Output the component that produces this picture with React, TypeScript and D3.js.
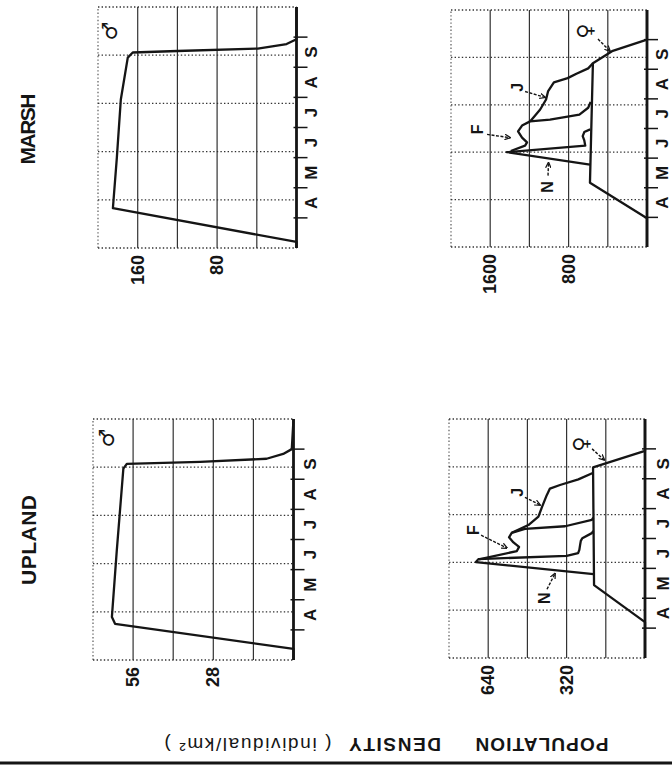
import React from 'react';
import * as d3 from 'd3';

type Pt = [number, number];

// ---- axis data ----
const timeDomain: Pt = [3, 11]; // Mar 1 -> Nov 1 (month number)
const monthLabels = ['A', 'M', 'J', 'J', 'A', 'S'];
const monthLabelAt = [4.5, 5.5, 6.5, 7.5, 8.5, 9.5];
const monthTicks = [4, 5, 6, 7, 8, 9, 10];

const uplandMaleTicks = [28, 56];
const uplandFemaleTicks = [320, 640];
const marshMaleTicks = [80, 160];
const marshFemaleTicks = [800, 1600];

// ---- series (month, density) ----
const uplandMale: Pt[] = [[3, 0], [3.37, 0], [4.2, 62.3], [4.43, 63.4], [6.63, 61.7], [9.35, 59.4], [9.51, 58.2], [9.58, 32.6], [9.68, 9.4], [9.84, 3.6], [10.0, 0.6], [11, 0]];
const marshMale: Pt[] = [[3, 0], [3.2, 0], [4.32, 185], [6.0, 181], [7.93, 177], [9.32, 170], [9.49, 165], [9.54, 120], [9.62, 39], [9.77, 10], [9.93, 0], [11, 0]];

const uplandFemaleAdult: Pt[] = [[3, 0], [4.2, 0], [5.44, 208], [9.38, 212], [9.93, 0], [11, 0]];
const uplandFemaleN: Pt[] = [[5.81, 210], [6.21, 690], [6.31, 680], [6.42, 320], [6.51, 273], [6.62, 268], [6.78, 265], [6.92, 262], [7.01, 256], [7.18, 217], [7.25, 211]];
const uplandFemaleF: Pt[] = [[6.3, 678], [6.58, 523], [6.72, 514], [6.87, 537], [7.04, 555], [7.19, 544], [7.32, 490], [7.41, 326], [7.62, 217], [7.7, 211]];
const uplandFemaleJ: Pt[] = [[7.19, 544], [7.45, 476], [7.73, 435], [8.04, 421], [8.45, 401], [8.67, 388], [8.79, 347], [8.98, 272], [9.2, 211]];

const marshFemaleAdult: Pt[] = [[3, 0], [3.97, 0], [5.17, 582], [9.2, 552], [9.61, 357], [10.0, 0], [11, 0]];
const marshFemaleN: Pt[] = [[5.78, 582], [6.2, 1430], [6.42, 630], [6.6, 640], [6.74, 656], [6.88, 640], [6.97, 580]];
const marshFemaleF: Pt[] = [[6.24, 1390], [6.42, 1244], [6.53, 1224], [6.69, 1275], [6.9, 1316], [7.1, 1275], [7.24, 1193], [7.3, 990], [7.47, 690], [7.7, 600], [7.9, 575]];
const marshFemaleJ: Pt[] = [[7.24, 1193], [7.64, 1090], [7.98, 1030], [8.25, 1010], [8.56, 950], [8.7, 810], [8.85, 720], [9.03, 600], [9.2, 552]];

// ---- annotations (data coordinates) ----
type Note = { text: string; at: Pt; from?: Pt; to?: Pt };
const uplandMaleNotes: Note[] = [{ text: '♂', at: [10.37, 65] }];
const marshMaleNotes: Note[] = [{ text: '♂', at: [10.2, 188] }];
const uplandFemaleNotes: Note[] = [
  { text: 'N', at: [5.0, 410], from: [5.3, 400], to: [5.83, 367] },
  { text: 'F', at: [7.28, 702], from: [7.11, 669], to: [6.68, 563] },
  { text: 'J', at: [8.55, 522], from: [8.38, 490], to: [8.12, 428] },
  { text: '♀', at: [10.16, 261], from: [10.0, 216], to: [9.63, 166] },
];
const marshFemaleNotes: Note[] = [
  { text: 'N', at: [5.03, 1020], from: [5.41, 1010], to: [5.85, 1005] },
  { text: 'F', at: [6.97, 1734], from: [6.8, 1632], to: [6.69, 1397] },
  { text: 'J', at: [8.39, 1326], from: [8.25, 1244], to: [8.05, 1040] },
  { text: '♀', at: [10.29, 632], from: [10.02, 500], to: [9.61, 377] },
];

type PanelCfg = {
  x0: number; x1: number; yTop: number; yBase: number; max: number;
  ticks: number[]; lines: Pt[][]; notes: Note[]; labelOff: number;
};

const panels: PanelCfg[] = [
  { x0: 110, x1: 351, yTop: 93, yBase: 293.5, max: 70, ticks: uplandMaleTicks, lines: [uplandMale], notes: uplandMaleNotes, labelOff: 17 },
  { x0: 112, x1: 351, yTop: 449, yBase: 645, max: 800, ticks: uplandFemaleTicks, lines: [uplandFemaleAdult, uplandFemaleN, uplandFemaleF, uplandFemaleJ], notes: uplandFemaleNotes, labelOff: 18 },
  { x0: 522, x1: 763, yTop: 98, yBase: 296.5, max: 200, ticks: marshMaleTicks, lines: [marshMale], notes: marshMaleNotes, labelOff: 15 },
  { x0: 523, x1: 760, yTop: 451, yBase: 647, max: 2000, ticks: marshFemaleTicks, lines: [marshFemaleAdult, marshFemaleN, marshFemaleF, marshFemaleJ], notes: marshFemaleNotes, labelOff: 15 },
];

const INK = '#151515';
const FONT = '"Liberation Sans", Arial, Helvetica, sans-serif';

function Panel({ p }: { p: PanelCfg }) {
  const x = d3.scaleLinear().domain(timeDomain).range([p.x0, p.x1]);
  const y = d3.scaleLinear().domain([0, p.max]).range([p.yBase, p.yTop]);
  const line = d3.line<Pt>().x(d => x(d[0])).y(d => y(d[1]));
  const span = timeDomain[1] - timeDomain[0];
  const tGrid = d3.range(1, 5).map(i => timeDomain[0] + (i * span) / 5);
  const vGrid = d3.range(1, 5).map(i => (p.max * i) / 5);
  const dot = { stroke: '#333', strokeWidth: 1.3, strokeDasharray: '1.4 2.2' };
  return (
    <g>
      {/* dotted frame */}
      <line x1={p.x0} x2={p.x1} y1={y(p.max)} y2={y(p.max)} {...dot} stroke="#666" />
      <line x1={p.x0} x2={p.x0} y1={y(p.max)} y2={p.yBase} {...dot} />
      <line x1={p.x1} x2={p.x1} y1={y(p.max)} y2={p.yBase} {...dot} />
      {tGrid.map((t, i) => (
        <line key={'t' + i} x1={x(t)} x2={x(t)} y1={y(p.max)} y2={p.yBase} {...dot} />
      ))}
      {vGrid.map((v, i) => (
        <line key={'v' + i} x1={p.x0} x2={p.x1} y1={y(v)} y2={y(v)} stroke="#333" strokeWidth={1.2} />
      ))}
      {p.ticks.map(v => (
        <text key={'l' + v} x={p.x0 - 7} y={y(v)} textAnchor="end" dominantBaseline="central"
          fontSize={18} fontWeight="bold" fontFamily={FONT} fill={INK}>{v}</text>
      ))}
      {/* baseline axis */}
      <line x1={p.x0} x2={p.x1} y1={p.yBase} y2={p.yBase} stroke={INK} strokeWidth={2.8} />
      {monthTicks.map(m => (
        <line key={'m' + m} x1={x(m)} x2={x(m)} y1={p.yBase - 3} y2={p.yBase + 11} stroke={INK} strokeWidth={1.5} />
      ))}
      {monthLabels.map((l, i) => (
        <text key={'ml' + i} x={x(monthLabelAt[i])} y={p.yBase + p.labelOff} textAnchor="middle"
          dominantBaseline="central" fontSize={17} fontWeight="bold" fontFamily={FONT} fill={INK}>{l}</text>
      ))}
      {p.lines.map((d, i) => (
        <path key={'s' + i} d={line(d) || ''} fill="none" stroke={INK} strokeWidth={2.3} strokeLinejoin="round" />
      ))}
      {p.notes.map((n, i) => {
        const sym = n.text === '♂' || n.text === '♀';
        return (
          <g key={'n' + i}>
            <text x={x(n.at[0])} y={y(n.at[1])} textAnchor="middle" dominantBaseline="central"
              fontSize={sym ? 21 : 16} fontWeight="bold"
              fontFamily={sym ? '"DejaVu Sans", sans-serif' : FONT} fill={INK}>{n.text}</text>
            {n.from && n.to && (
              <line x1={x(n.from[0])} y1={y(n.from[1])} x2={x(n.to[0])} y2={y(n.to[1])}
                stroke={INK} strokeWidth={1.4} strokeDasharray="3 1.5" markerEnd="url(#ah)" />
            )}
          </g>
        );
      })}
    </g>
  );
}

export default function App() {
  return (
    <>
      <style>{`html,body{margin:0;padding:0;background:#fff;}`}</style>
      <svg width={672} height={770} viewBox="0 0 672 770" style={{ display: 'block' }}>
        <defs>
          <marker id="ah" viewBox="0 0 10 10" refX="9" refY="5" markerWidth="6" markerHeight="6"
            orient="auto" markerUnits="userSpaceOnUse">
            <path d="M0,0.5 L10,5 L0,9.5" fill="none" stroke={INK} strokeWidth={2} />
          </marker>
        </defs>
        <rect width={672} height={770} fill="#fff" />
        <g transform="translate(0,770) rotate(-90)">
          {/* left rule */}
          <line x1={7} x2={7} y1={0} y2={672} stroke={INK} strokeWidth={3} />
          {/* y-axis title */}
          <g fontFamily={FONT} fontSize={19} fontWeight="bold" fill={INK}>
            <text transform="translate(32,542) rotate(-90)" textAnchor="middle" textLength={133}>POPULATION</text>
            <text transform="translate(32,395) rotate(-90)" textAnchor="middle" textLength={92}>DENSITY</text>
            <text transform="translate(32,248) rotate(-90)" textAnchor="middle" textLength={167} fontWeight="normal">( individual/km² )</text>
          </g>
          {/* column titles */}
          <text x={230} y={36} textAnchor="middle" fontFamily={FONT} fontSize={21} fontWeight="bold" fill={INK} textLength={90}>UPLAND</text>
          <text x={641} y={35} textAnchor="middle" fontFamily={FONT} fontSize={21} fontWeight="bold" fill={INK} textLength={71}>MARSH</text>
          {panels.map((p, i) => <Panel key={i} p={p} />)}
        </g>
      </svg>
    </>
  );
}
